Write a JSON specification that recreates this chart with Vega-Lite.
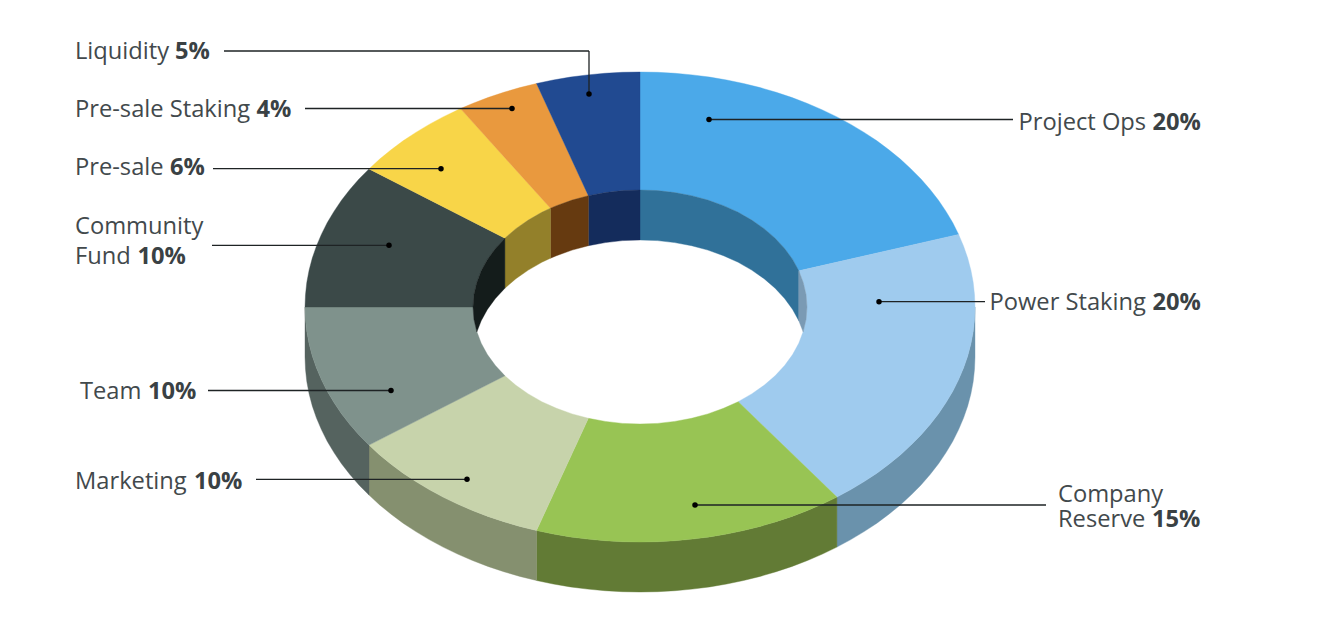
{"$schema":"https://vega.github.io/schema/vega-lite/v6.json","width":1318,"height":634,"padding":0,"autosize":{"type":"none"},"background":"white","config":{"view":{"stroke":null},"font":"Open Sans"},
"datasets":{
"slices":[
{"type":"Feature","properties":{"key":"Power Staking wall","slice":"Power Staking","share":20},"geometry":{"type":"Polygon","coordinates":[[[975,307],[974.5,319.3],[973.2,331.6],[970.9,343.8],[967.7,355.9],[963.6,367.8],[958.6,379.6],[952.8,391.2],[946,402.6],[938.5,413.7],[930.1,424.5],[921,435],[911,445.1],[900.3,454.9],[888.9,464.2],[876.9,473.2],[864.1,481.6],[850.8,489.6],[836.9,497.1],[836.9,547.1],[850.8,539.6],[864.1,531.6],[876.9,523.2],[888.9,514.2],[900.3,504.9],[911,495.1],[921,485],[930.1,474.5],[938.5,463.7],[946,452.6],[952.8,441.2],[958.6,429.6],[963.6,417.8],[967.7,405.9],[970.9,393.8],[973.2,381.6],[974.5,369.3],[975,357],[975,307]]]}},
{"type":"Feature","properties":{"key":"Company Reserve wall","slice":"Company Reserve","share":15},"geometry":{"type":"Polygon","coordinates":[[[836.9,497.1],[822.4,504.1],[807.5,510.5],[792.1,516.4],[776.2,521.7],[760.1,526.4],[743.5,530.5],[726.7,534],[709.6,536.9],[692.4,539.1],[675,540.7],[657.5,541.7],[640,542],[622.5,541.7],[605,540.7],[587.6,539.1],[570.4,536.9],[553.3,534],[536.5,530.5],[536.5,580.5],[553.3,584],[570.4,586.9],[587.6,589.1],[605,590.7],[622.5,591.7],[640,592],[657.5,591.7],[675,590.7],[692.4,589.1],[709.6,586.9],[726.7,584],[743.5,580.5],[760.1,576.4],[776.2,571.7],[792.1,566.4],[807.5,560.5],[822.4,554.1],[836.9,547.1],[836.9,497.1]]]}},
{"type":"Feature","properties":{"key":"Marketing wall","slice":"Marketing","share":10},"geometry":{"type":"Polygon","coordinates":[[[536.5,530.5],[519.9,526.4],[503.8,521.7],[487.9,516.4],[472.5,510.5],[457.6,504.1],[443.1,497.1],[429.2,489.6],[415.9,481.6],[403.1,473.2],[391.1,464.2],[379.7,454.9],[369,445.1],[369,495.1],[379.7,504.9],[391.1,514.2],[403.1,523.2],[415.9,531.6],[429.2,539.6],[443.1,547.1],[457.6,554.1],[472.5,560.5],[487.9,566.4],[503.8,571.7],[519.9,576.4],[536.5,580.5],[536.5,530.5]]]}},
{"type":"Feature","properties":{"key":"Team wall","slice":"Team","share":10},"geometry":{"type":"Polygon","coordinates":[[[369,445.1],[359,435],[349.9,424.5],[341.5,413.7],[334,402.6],[327.2,391.2],[321.4,379.6],[316.4,367.8],[312.3,355.9],[309.1,343.8],[306.8,331.6],[305.5,319.3],[305,307],[305,357],[305.5,369.3],[306.8,381.6],[309.1,393.8],[312.3,405.9],[316.4,417.8],[321.4,429.6],[327.2,441.2],[334,452.6],[341.5,463.7],[349.9,474.5],[359,485],[369,495.1],[369,445.1]]]}},
{"type":"Feature","properties":{"key":"Project Ops top","slice":"Project Ops","share":20},"geometry":{"type":"Polygon","coordinates":[[[640,72],[657.5,72.3],[675,73.3],[692.4,74.9],[709.6,77.1],[726.7,80],[743.5,83.5],[760.1,87.6],[776.2,92.3],[792.1,97.6],[807.5,103.5],[822.4,109.9],[836.9,116.9],[850.8,124.4],[864.1,132.4],[876.9,140.8],[888.9,149.8],[900.3,159.1],[911,168.9],[921,179],[930.1,189.5],[938.5,200.3],[946,211.4],[952.8,222.8],[958.6,234.4],[798.8,270.8],[792.6,259.4],[784.6,248.5],[775.1,238.2],[764.1,228.7],[751.7,220.1],[738.2,212.3],[723.5,205.7],[707.9,200.1],[691.6,195.7],[674.7,192.6],[657.5,190.6],[640,190],[640,72]]]}},
{"type":"Feature","properties":{"key":"Power Staking top","slice":"Power Staking","share":20},"geometry":{"type":"Polygon","coordinates":[[[958.6,234.4],[963.6,246.2],[967.7,258.1],[970.9,270.2],[973.2,282.4],[974.5,294.7],[975,307],[974.5,319.3],[973.2,331.6],[970.9,343.8],[967.7,355.9],[963.6,367.8],[958.6,379.6],[952.8,391.2],[946,402.6],[938.5,413.7],[930.1,424.5],[921,435],[911,445.1],[900.3,454.9],[888.9,464.2],[876.9,473.2],[864.1,481.6],[850.8,489.6],[836.9,497.1],[738.2,401.7],[751.7,393.9],[764.1,385.3],[775.1,375.8],[784.6,365.5],[792.6,354.6],[798.8,343.2],[803.3,331.3],[806.1,319.2],[807,307],[806.1,294.8],[803.3,282.7],[798.8,270.8],[958.6,234.4]]]}},
{"type":"Feature","properties":{"key":"Company Reserve top","slice":"Company Reserve","share":15},"geometry":{"type":"Polygon","coordinates":[[[836.9,497.1],[822.4,504.1],[807.5,510.5],[792.1,516.4],[776.2,521.7],[760.1,526.4],[743.5,530.5],[726.7,534],[709.6,536.9],[692.4,539.1],[675,540.7],[657.5,541.7],[640,542],[622.5,541.7],[605,540.7],[587.6,539.1],[570.4,536.9],[553.3,534],[536.5,530.5],[588.4,418.3],[605.3,421.4],[622.5,423.4],[640,424],[657.5,423.4],[674.7,421.4],[691.6,418.3],[707.9,413.9],[723.5,408.3],[738.2,401.7],[836.9,497.1]]]}},
{"type":"Feature","properties":{"key":"Marketing top","slice":"Marketing","share":10},"geometry":{"type":"Polygon","coordinates":[[[536.5,530.5],[519.9,526.4],[503.8,521.7],[487.9,516.4],[472.5,510.5],[457.6,504.1],[443.1,497.1],[429.2,489.6],[415.9,481.6],[403.1,473.2],[391.1,464.2],[379.7,454.9],[369,445.1],[504.9,375.8],[515.9,385.3],[528.3,393.9],[541.8,401.7],[556.5,408.3],[572.1,413.9],[588.4,418.3],[536.5,530.5]]]}},
{"type":"Feature","properties":{"key":"Team top","slice":"Team","share":10},"geometry":{"type":"Polygon","coordinates":[[[369,445.1],[359,435],[349.9,424.5],[341.5,413.7],[334,402.6],[327.2,391.2],[321.4,379.6],[316.4,367.8],[312.3,355.9],[309.1,343.8],[306.8,331.6],[305.5,319.3],[305,307],[473,307],[473.9,319.2],[476.7,331.3],[481.2,343.2],[487.4,354.6],[495.4,365.5],[504.9,375.8],[369,445.1]]]}},
{"type":"Feature","properties":{"key":"Community Fund top","slice":"Community Fund","share":10},"geometry":{"type":"Polygon","coordinates":[[[305,307],[305.5,294.7],[306.8,282.4],[309.1,270.2],[312.3,258.1],[316.4,246.2],[321.4,234.4],[327.2,222.8],[334,211.4],[341.5,200.3],[349.9,189.5],[359,179],[369,168.9],[504.9,238.2],[495.4,248.5],[487.4,259.4],[481.2,270.8],[476.7,282.7],[473.9,294.8],[473,307],[305,307]]]}},
{"type":"Feature","properties":{"key":"Pre-sale top","slice":"Pre-sale","share":6},"geometry":{"type":"Polygon","coordinates":[[[369,168.9],[379.7,159.1],[391.1,149.8],[403.1,140.8],[415.9,132.4],[429.2,124.4],[443.1,116.9],[460.5,108.6],[550.5,208.2],[541.8,212.3],[528.3,220.1],[515.9,228.7],[504.9,238.2],[369,168.9]]]}},
{"type":"Feature","properties":{"key":"Pre-sale Staking top","slice":"Pre-sale Staking","share":4},"geometry":{"type":"Polygon","coordinates":[[[460.5,108.6],[472.5,103.5],[487.9,97.6],[503.8,92.3],[519.9,87.6],[536.5,83.5],[588.4,195.7],[572.1,200.1],[556.5,205.7],[550.5,208.2],[460.5,108.6]]]}},
{"type":"Feature","properties":{"key":"Liquidity top","slice":"Liquidity","share":5},"geometry":{"type":"Polygon","coordinates":[[[536.5,83.5],[553.3,80],[570.4,77.1],[587.6,74.9],[605,73.3],[622.5,72.3],[640,72],[640,190],[622.5,190.6],[605.3,192.6],[588.4,195.7],[536.5,83.5]]]}},
{"type":"Feature","properties":{"key":"Project Ops hole","slice":"Project Ops","share":20},"geometry":{"type":"Polygon","coordinates":[[[640,190],[657.5,190.6],[674.7,192.6],[691.6,195.7],[707.9,200.1],[723.5,205.7],[738.2,212.3],[751.7,220.1],[764.1,228.7],[775.1,238.2],[784.6,248.5],[792.6,259.4],[798.8,270.8],[798.8,320.8],[792.6,309.4],[784.6,298.5],[775.1,288.2],[764.1,278.7],[751.7,270.1],[738.2,262.3],[723.5,255.7],[707.9,250.1],[691.6,245.7],[674.7,242.6],[657.5,240.6],[640,240],[640,190]]]}},
{"type":"Feature","properties":{"key":"Power Staking hole","slice":"Power Staking","share":20},"geometry":{"type":"Polygon","coordinates":[[[798.8,270.8],[803.3,282.7],[806.1,294.8],[807,307],[806.1,319.2],[803.3,331.3],[803.2,332],[798.8,320.8],[798.8,270.8]]]}},
{"type":"Feature","properties":{"key":"Liquidity hole","slice":"Liquidity","share":5},"geometry":{"type":"Polygon","coordinates":[[[588.4,195.7],[605.3,192.6],[622.5,190.6],[640,190],[640,240],[622.5,240.6],[605.3,242.6],[588.4,245.7],[588.4,195.7]]]}},
{"type":"Feature","properties":{"key":"Pre-sale Staking hole","slice":"Pre-sale Staking","share":4},"geometry":{"type":"Polygon","coordinates":[[[550.5,208.2],[556.5,205.7],[572.1,200.1],[588.4,195.7],[588.4,245.7],[572.1,250.1],[556.5,255.7],[550.5,258.2],[550.5,208.2]]]}},
{"type":"Feature","properties":{"key":"Pre-sale hole","slice":"Pre-sale","share":6},"geometry":{"type":"Polygon","coordinates":[[[504.9,238.2],[515.9,228.7],[528.3,220.1],[541.8,212.3],[550.5,208.2],[550.5,258.2],[541.8,262.3],[528.3,270.1],[515.9,278.7],[504.9,288.2],[504.9,238.2]]]}},
{"type":"Feature","properties":{"key":"Community Fund hole","slice":"Community Fund","share":10},"geometry":{"type":"Polygon","coordinates":[[[504.9,238.2],[495.4,248.5],[487.4,259.4],[481.2,270.8],[476.7,282.7],[473.9,294.8],[473,307],[473.9,319.2],[476.7,331.3],[476.8,332],[481.2,320.8],[487.4,309.4],[495.4,298.5],[504.9,288.2],[504.9,238.2]]]}}
],
"leaders":[
{"slice":"Liquidity","x":224,"x2":589,"y":51,"y2":51},
{"slice":"Liquidity","x":589,"x2":589,"y":51,"y2":94},
{"slice":"Pre-sale Staking","x":305,"x2":512,"y":108.5,"y2":108.5},
{"slice":"Pre-sale","x":213,"x2":441,"y":168.7,"y2":168.7},
{"slice":"Community Fund","x":212,"x2":389,"y":245.3,"y2":245.3},
{"slice":"Team","x":208,"x2":391,"y":390.5,"y2":390.5},
{"slice":"Marketing","x":256,"x2":467,"y":479.3,"y2":479.3},
{"slice":"Company Reserve","x":695,"x2":1046,"y":505,"y2":505},
{"slice":"Power Staking","x":879,"x2":985,"y":301.7,"y2":301.7},
{"slice":"Project Ops","x":709,"x2":1013,"y":119.5,"y2":119.5}
],
"dots":[
{"slice":"Liquidity","x":589,"y":94},
{"slice":"Pre-sale Staking","x":512,"y":108.5},
{"slice":"Pre-sale","x":441,"y":168.7},
{"slice":"Community Fund","x":389,"y":245.3},
{"slice":"Team","x":391,"y":390.5},
{"slice":"Marketing","x":467,"y":479.3},
{"slice":"Company Reserve","x":695,"y":505},
{"slice":"Power Staking","x":879,"y":301.7},
{"slice":"Project Ops","x":709,"y":119.5}
],
"names":[
{"text":"Liquidity","x":75,"y":59.3},
{"text":"Pre-sale Staking","x":75,"y":117.3},
{"text":"Pre-sale","x":75,"y":175},
{"text":"Community","x":75,"y":234},
{"text":"Fund","x":75,"y":263.5},
{"text":"Team","x":80,"y":399},
{"text":"Marketing","x":75,"y":489},
{"text":"Project Ops","x":1018.5,"y":130},
{"text":"Power Staking","x":989.5,"y":310},
{"text":"Company","x":1058,"y":502},
{"text":"Reserve","x":1058,"y":527}
],
"shares":[
{"text":"5%","x":175,"y":59.3},
{"text":"4%","x":256.5,"y":117.3},
{"text":"6%","x":170,"y":175},
{"text":"10%","x":137.5,"y":263.5},
{"text":"10%","x":148,"y":399},
{"text":"10%","x":194,"y":489},
{"text":"20%","x":1152.5,"y":130},
{"text":"20%","x":1152.5,"y":310},
{"text":"15%","x":1152,"y":527}
]
},
"layer":[
{"data":{"name":"slices"},"mark":{"type":"geoshape","strokeWidth":0.4},"projection":{"type":"identity","scale":1,"translate":[0,0]},
"encoding":{
"fill":{"field":"properties.key","type":"nominal","legend":null,"scale":{"domain":["Project Ops top","Power Staking top","Company Reserve top","Marketing top","Team top","Community Fund top","Pre-sale top","Pre-sale Staking top","Liquidity top","Power Staking wall","Company Reserve wall","Marketing wall","Team wall","Project Ops hole","Power Staking hole","Liquidity hole","Pre-sale Staking hole","Pre-sale hole","Community Fund hole"],"range":["#4BA9E9","#9FCBEE","#98C454","#C7D3AB","#7F928C","#3B4948","#F8D548","#E9993E","#214A91","#6A92AC","#627B35","#85906F","#55635F","#307199","#7A9AB4","#142C5C","#663A10","#93802A","#141C1B"]}},
"stroke":{"field":"properties.key","type":"nominal","legend":null,"scale":{"domain":["Project Ops top","Power Staking top","Company Reserve top","Marketing top","Team top","Community Fund top","Pre-sale top","Pre-sale Staking top","Liquidity top","Power Staking wall","Company Reserve wall","Marketing wall","Team wall","Project Ops hole","Power Staking hole","Liquidity hole","Pre-sale Staking hole","Pre-sale hole","Community Fund hole"],"range":["#4BA9E9","#9FCBEE","#98C454","#C7D3AB","#7F928C","#3B4948","#F8D548","#E9993E","#214A91","#6A92AC","#627B35","#85906F","#55635F","#307199","#7A9AB4","#142C5C","#663A10","#93802A","#141C1B"]}}
}},
{"data":{"name":"leaders"},"mark":{"type":"rule","color":"#1E2324","strokeWidth":1.3},
"encoding":{
"x":{"field":"x","type":"quantitative","axis":null,"scale":{"domain":[0,1318],"nice":false,"zero":false}},
"x2":{"field":"x2"},
"y":{"field":"y","type":"quantitative","axis":null,"scale":{"domain":[634,0],"nice":false,"zero":false}},
"y2":{"field":"y2"}
}},
{"data":{"name":"dots"},"mark":{"type":"point","filled":true,"color":"#000000","size":30,"opacity":1},
"encoding":{
"x":{"field":"x","type":"quantitative","axis":null},
"y":{"field":"y","type":"quantitative","axis":null}
}},
{"data":{"name":"names"},"mark":{"type":"text","font":"Open Sans","fontSize":23.7,"align":"left","baseline":"alphabetic","color":"#42494C"},
"encoding":{
"x":{"field":"x","type":"quantitative","axis":null},
"y":{"field":"y","type":"quantitative","axis":null},
"text":{"field":"text"}
}},
{"data":{"name":"shares"},"mark":{"type":"text","font":"Open Sans","fontSize":23.7,"fontWeight":"bold","align":"left","baseline":"alphabetic","color":"#3A4144"},
"encoding":{
"x":{"field":"x","type":"quantitative","axis":null},
"y":{"field":"y","type":"quantitative","axis":null},
"text":{"field":"text"}
}}
]}
